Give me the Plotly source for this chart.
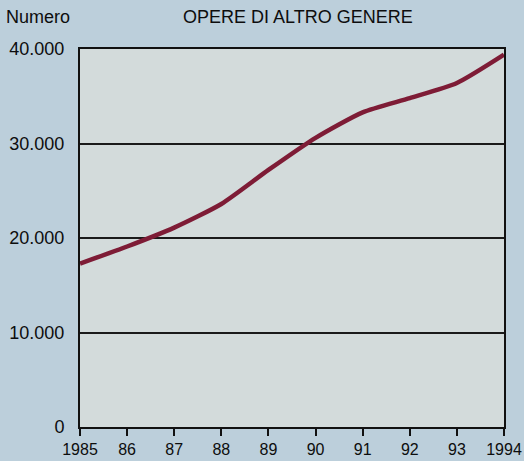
import plotly.graph_objects as go

years = [1985, 1986, 1987, 1988, 1989, 1990, 1991, 1992, 1993, 1994]
values = [17300, 19100, 21100, 23600, 27200, 30600, 33300, 34800, 36400, 39400]
x_tick_labels = ["1985", "86", "87", "88", "89", "90", "91", "92", "93", "1994"]
y_tick_vals = [0, 10000, 20000, 30000, 40000]
y_tick_labels = ["0", "10.000", "20.000", "30.000", "40.000"]

W, H = 524, 461
L, R, T, B = 80, 20, 49, 34
pw, ph = W - L - R, H - T - B

fig = go.Figure()
fig.add_trace(go.Scatter(x=years, y=values, mode="lines",
                         line=dict(color="#7e1c36", width=4.5, shape="spline", smoothing=0.6),
                         showlegend=False, cliponaxis=False, hoverinfo="skip"))

txt = "#0d0d0d"
fig.update_layout(
    width=W, height=H,
    margin=dict(l=L, r=R, t=T, b=B, autoexpand=False),
    paper_bgcolor="#bccfdb",
    plot_bgcolor="#d3dbdb",
    font=dict(family="Liberation Sans, Arial, sans-serif", size=16, color=txt),
    xaxis=dict(range=[1985, 1994], tickvals=years, ticktext=x_tick_labels, automargin=False,
               showgrid=False, zeroline=False, showline=True, linecolor="#111", linewidth=2,
               mirror=True, ticks="outside", ticklen=7, tickwidth=2, tickcolor="#111",
               tickfont=dict(size=16, color=txt)),
    yaxis=dict(range=[0, 40000], tickvals=y_tick_vals, ticktext=y_tick_labels, automargin=False,
               showgrid=True, gridcolor="#1a1a1a", gridwidth=2, zeroline=False,
               showline=True, linecolor="#111", linewidth=2, mirror=True,
               ticks="", ticklabelstandoff=10,
               tickfont=dict(size=18, color=txt)),
    annotations=[
        dict(text="Numero", x=(38 - L) / pw, y=1 + (T - 17) / ph, xref="paper", yref="paper",
             xanchor="center", yanchor="middle", showarrow=False,
             font=dict(size=18, color=txt)),
        dict(text="OPERE DI ALTRO GENERE", x=(298 - L) / pw, y=1 + (T - 17) / ph,
             xref="paper", yref="paper", xanchor="center", yanchor="middle",
             showarrow=False, font=dict(size=18, color=txt)),
    ],
)

fig.write_html("out.html", config={"displayModeBar": False, "staticPlot": True},
               post_script="document.body.style.margin='0';document.body.style.overflow='hidden';")
